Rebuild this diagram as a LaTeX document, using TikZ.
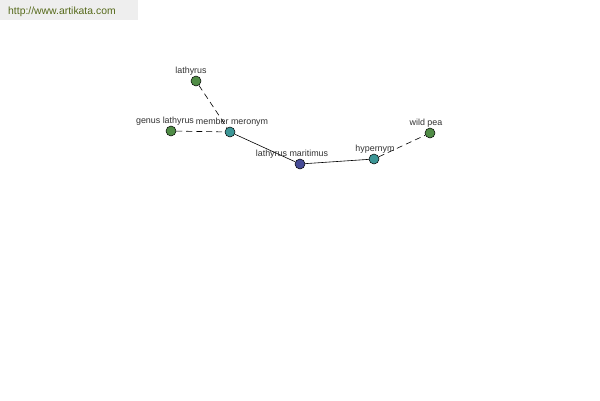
\documentclass[tikz,border=0pt]{standalone}
\usepackage{fontspec}
\setmainfont{Liberation Sans}
\definecolor{cgreen}{RGB}{80,140,70}
\definecolor{cteal}{RGB}{60,150,150}
\definecolor{cblue}{RGB}{70,75,150}
\definecolor{ctext}{RGB}{50,50,50}
\definecolor{cbar}{RGB}{238,238,238}
\definecolor{curl}{RGB}{85,105,25}
\begin{document}
\begin{tikzpicture}[x=1pt,y=-1pt,
  vtx/.style={circle,draw=black,line width=0.5pt,minimum size=10pt,inner sep=0pt},
  gnode/.style={vtx,fill=cgreen},
  tnode/.style={vtx,fill=cteal},
  bnode/.style={vtx,fill=cblue},
  lbl/.style={font=\fontsize{8.9}{10}\selectfont,text=ctext,inner sep=0pt},
  link/.style={line width=0.6pt,draw=black},
  dlink/.style={link,dash pattern=on 6pt off 4pt}]
\useasboundingbox (0,0) rectangle (600,400);
\fill[white] (0,0) rectangle (600,400);
\fill[cbar] (0,0) rectangle (138,20);
\node[anchor=west,inner sep=0pt,font=\fontsize{10.4}{12}\selectfont,text=curl] (url) at (8,11.5) {http://www.artikata.com};

\node[gnode] (lat) at (196,81) {};
\node[gnode] (gen) at (171,131) {};
\node[tnode] (mem) at (230,132) {};
\node[bnode] (mar) at (300,164) {};
\node[tnode] (hyp) at (374,159) {};
\node[gnode] (wild) at (430,133) {};

\draw[dlink] (lat) -- (mem);
\draw[dlink] (gen) -- (mem);
\draw[link] (mem) -- (mar);
\draw[link] (mar) -- (hyp);
\draw[dlink] (hyp) -- (wild);

\node[lbl] (llat) at (191,71) {lathyrus};
\node[lbl] (lgen) at (165,121) {genus lathyrus};
\node[lbl] (lmem) at (232,122) {member meronym};
\node[lbl] (lmar) at (292,154) {lathyrus maritimus};
\node[lbl] (lhyp) at (375,149) {hypernym};
\node[lbl] (lwild) at (426,123) {wild pea};
\end{tikzpicture}
\end{document}
